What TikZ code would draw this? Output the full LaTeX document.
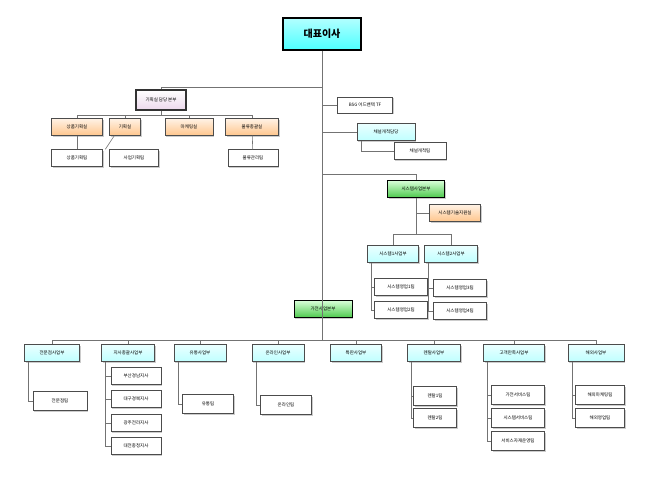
\documentclass[tikz,border=0pt]{standalone}
\usepackage{fontspec}
\setmainfont{Noto Sans CJK KR}
\usetikzlibrary{shadows}
\tikzset{
    box/.style={draw=black!70, fill=white, minimum height=17pt, inner sep=1pt,
        font=\fontsize{4.5}{5}\selectfont, drop shadow={shadow xshift=1pt, shadow yshift=-1pt, fill=black!40}},
    cyanbox/.style={box, top color=cyan!8, bottom color=cyan!25},
    orangebox/.style={box, top color=orange!10, bottom color=orange!45},
    greenbox/.style={box, draw=black, line width=1pt, top color=green!15, bottom color=green!70!black!70},
    link/.style={draw=black!55, line width=0.6pt},
}
\begin{document}
\begin{tikzpicture}[x=1pt, y=-1pt]
    \useasboundingbox (0,0) rectangle (658,483);
    % top
    \node [box, draw=black, line width=1.2pt, top color=cyan!30, bottom color=cyan!70, minimum width=78pt, minimum height=32pt, font=\fontsize{10}{11}\selectfont\bfseries] (ceo) at (322,34) {대표이사};
    \node [box, draw=black!80, line width=1.2pt, top color=white, bottom color=violet!15, minimum width=50pt, minimum height=20pt] (plan) at (161,100) {기획실 담당 본부};
    \node [box, minimum width=55pt, minimum height=16pt] (tf) at (365,105) {BSG 어드밴텍 TF};
    \node [cyanbox, minimum width=58pt] (chan) at (386,132) {채널개척담당};
    \node [box, minimum width=52pt] (chanteam) at (420,151) {채널개척팀};
    \node [greenbox, minimum width=57pt] (sys) at (416,189) {시스템사업본부};
    \node [orangebox, minimum width=51pt] (systech) at (455,213) {시스템기술지원실};
    \node [cyanbox, minimum width=51pt] (sys1) at (393,254) {시스템1사업부};
    \node [cyanbox, minimum width=53pt] (sys2) at (451,254) {시스템2사업부};
    \node [box, minimum width=53pt] (st1) at (401,287) {시스템영업1팀};
    \node [box, minimum width=53pt] (st2) at (401,310) {시스템영업2팀};
    \node [box, minimum width=53pt] (st3) at (460,288) {시스템영업3팀};
    \node [box, minimum width=53pt] (st4) at (460,311) {시스템영업4팀};
    \node [greenbox, minimum width=58pt] (home) at (323,309) {가전사업본부};

    % planning office
    \node [orangebox, minimum width=51pt] (pr) at (77,127) {상품기획실};
    \node [orangebox, minimum width=31pt] (po) at (125,127) {기획실};
    \node [orangebox, minimum width=48pt] (mk) at (189,127) {마케팅실};
    \node [orangebox, minimum width=53pt] (lo) at (252,127) {물류총괄실};
    \node [box, minimum width=51pt] (prt) at (77,158) {상품기획팀};
    \node [box, minimum width=49pt] (pot) at (134,158) {사업기획팀};
    \node [box, minimum width=50pt] (lot) at (253,158) {물류관리팀};

    % divisions
    \node [cyanbox, minimum width=55pt] (d1) at (52,353) {전문점사업부};
    \node [cyanbox, minimum width=53pt] (d2) at (128,353) {지사총괄사업부};
    \node [cyanbox, minimum width=52pt] (d3) at (200,353) {유통사업부};
    \node [cyanbox, minimum width=52pt] (d4) at (278,353) {온라인사업부};
    \node [cyanbox, minimum width=51pt] (d5) at (356,353) {특판사업부};
    \node [cyanbox, minimum width=53pt] (d6) at (434,353) {렌탈사업부};
    \node [cyanbox, minimum width=61pt] (d7) at (514,353) {고객만족사업부};
    \node [cyanbox, minimum width=56pt] (d8) at (596,353) {해외사업부};
    \node [box, minimum width=54pt, minimum height=19pt] (t1) at (60,401) {전문점팀};
    \node [box, minimum width=50pt] (b1) at (136,376) {부산경남지사};
    \node [box, minimum width=50pt] (b2) at (136,399) {대구경북지사};
    \node [box, minimum width=50pt] (b3) at (136,423) {광주전라지사};
    \node [box, minimum width=50pt] (b4) at (136,446) {대전충청지사};
    \node [box, minimum width=51pt, minimum height=19pt] (t3) at (208,404) {유통팀};
    \node [box, minimum width=51pt, minimum height=19pt] (t4) at (286,405) {온라인팀};
    \node [box, minimum width=43pt, minimum height=19pt] (r1) at (435,396) {렌탈1팀};
    \node [box, minimum width=43pt, minimum height=19pt] (r2) at (435,418) {렌탈2팀};
    \node [box, minimum width=53pt, minimum height=19pt] (c1) at (518,395) {가전서비스팀};
    \node [box, minimum width=53pt, minimum height=19pt] (c2) at (518,418) {시스템서비스팀};
    \node [box, minimum width=53pt, minimum height=19pt] (c3) at (518,441) {서비스자재운영팀};
    \node [box, minimum width=49pt, minimum height=19pt] (o1) at (600,395) {해외마케팅팀};
    \node [box, minimum width=49pt, minimum height=19pt] (o2) at (600,418) {해외영업팀};

    \coordinate (trunk) at (322,340);
    % connectors
    \begin{scope}[on background layer/.style={}]
    \draw [link] (ceo) -- (trunk);
    \draw [link] (322,87) -| (plan);
    \draw [link] (plan) -- (161,115) coordinate (pbar);
    \foreach \n in {pr,po,mk,lo} \draw [link] (pbar) -| (\n);
    \draw [link] (pr) -- (prt);
    \draw [link] ([xshift=5pt]po.south west) -- ([xshift=-4pt]pot.north west);
    \draw [link] (lo) -- (lot);
    \draw [link] (322,105) -- (tf);
    \draw [link] (322,132) -- (chan);
    \draw [link] ([xshift=4pt]chan.south west) |- (chanteam);
    \draw [link] (322,174) -| (sys);
    \draw [link] (sys) |- (systech);
    \draw [link] (sys) -- (416,234) coordinate (sbar);
    \foreach \n in {sys1,sys2} \draw [link] (sbar) -| (\n);
    \foreach \n in {st1,st2} \draw [link] ([xshift=4pt]sys1.south west) |- (\n);
    \foreach \n in {st3,st4} \draw [link] ([xshift=4pt]sys2.south west) |- (\n);
    \foreach \n in {d1,d2,d3,d4,d5,d6,d7,d8} \draw [link] (trunk) -| (\n);
    \draw [link] ([xshift=4pt]d1.south west) |- (t1);
    \foreach \n in {b1,b2,b3,b4} \draw [link] ([xshift=4pt]d2.south west) |- (\n);
    \draw [link] ([xshift=4pt]d3.south west) |- (t3);
    \draw [link] ([xshift=4pt]d4.south west) |- (t4);
    \foreach \n in {r1,r2} \draw [link] ([xshift=4pt]d6.south west) |- (\n);
    \foreach \n in {c1,c2,c3} \draw [link] ([xshift=4pt]d7.south west) |- (\n);
    \foreach \n in {o1,o2} \draw [link] ([xshift=4pt]d8.south west) |- (\n);
    \end{scope}
\end{tikzpicture}
\end{document}
